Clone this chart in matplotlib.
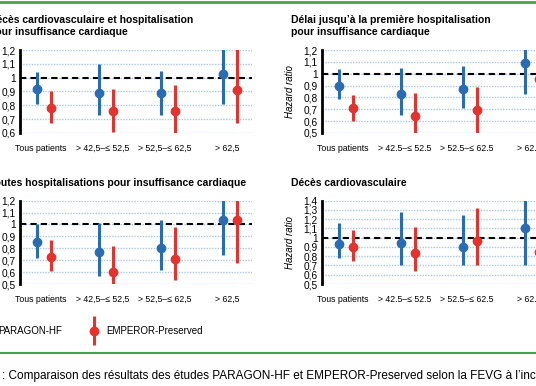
import numpy as np
import matplotlib
matplotlib.use("Agg")
import matplotlib.pyplot as plt
from matplotlib.lines import Line2D
from matplotlib.legend_handler import HandlerErrorbar

plt.rcParams['font.family'] = ['Liberation Sans Narrow', 'Liberation Sans', 'DejaVu Sans']

# --- data (hazard ratio, lower CI, upper CI) ---
groups_comma = ["Tous patients", "> 42,5\u2013\u2264 52,5", "> 52,5\u2013\u2264 62,5", "> 62,5"]
groups_dot = ["Tous patients", "> 42.5\u2013\u2264 52.5", "> 52.5\u2013\u2264 62.5", "> 62.5"]

# Décès CV et hospitalisation pour IC
p1_paragon_hr = [0.92, 0.89, 0.89, 1.03]
p1_paragon_lo = [0.81, 0.73, 0.73, 0.81]
p1_paragon_hi = [1.04, 1.10, 1.05, 1.31]
p1_emperor_hr = [0.78, 0.76, 0.76, 0.91]
p1_emperor_lo = [0.67, 0.61, 0.58, 0.67]
p1_emperor_hi = [0.90, 0.92, 0.95, 1.23]

# Délai jusqu'à la première hospitalisation pour IC
p2_paragon_hr = [0.90, 0.83, 0.87, 1.09]
p2_paragon_lo = [0.785, 0.655, 0.715, 0.83]
p2_paragon_hi = [1.04, 1.05, 1.065, 1.42]
p2_emperor_hr = [0.715, 0.64, 0.69, 0.955]
p2_emperor_lo = [0.60, 0.49, 0.49, 0.70]
p2_emperor_hi = [0.82, 0.84, 0.885, 1.28]

# Toutes hospitalisations pour IC
p3_paragon_hr = [0.85, 0.77, 0.80, 1.04]
p3_paragon_lo = [0.72, 0.57, 0.62, 0.745]
p3_paragon_hi = [1.00, 1.01, 1.04, 1.45]
p3_emperor_hr = [0.725, 0.60, 0.71, 1.04]
p3_emperor_lo = [0.61, 0.49, 0.53, 0.68]
p3_emperor_hi = [0.87, 0.82, 0.98, 1.55]

# Décès cardiovasculaire
p4_paragon_hr = [0.93, 0.94, 0.90, 1.10]
p4_paragon_lo = [0.785, 0.70, 0.70, 0.70]
p4_paragon_hi = [1.155, 1.275, 1.245, 1.72]
p4_emperor_hr = [0.90, 0.84, 0.965, 0.846]
p4_emperor_lo = [0.75, 0.64, 0.70, 0.55]
p4_emperor_hi = [1.08, 1.12, 1.32, 1.30]

ticks_a = [0.6, 0.7, 0.8, 0.9, 1.0, 1.1, 1.2]
ticks_b = [0.5, 0.6, 0.7, 0.8, 0.9, 1.0, 1.1, 1.2]
ticks_c = [0.5, 0.6, 0.7, 0.8, 0.9, 1.0, 1.1, 1.2, 1.3, 1.4]

BLUE = '#2a6cb3'
RED = '#e5322d'
GRID = '#a9c9ea'
GREEN = '#3fa84a'

W, H = 536, 386
fig = plt.figure(figsize=(W / 100, H / 100), dpi=100)


def px_axes(left, top, right, bottom):
    return fig.add_axes([left / W, 1 - bottom / H, (right - left) / W, (bottom - top) / H])


def tick_label(v):
    return ('%g' % v).replace('.', ',')


def panel(left, top, right, bottom, ticks, groups, title, title_y, par, emp, ylabel):
    ax = px_axes(left, top, right, bottom)
    x = np.arange(len(groups))
    spacing = 62.0
    ax.set_xlim(-(44 - 20) / spacing, -(44 - 20) / spacing + (right - left) / spacing)
    ax.set_ylim(ticks[0], ticks[-1])
    ax.set_yticks(ticks, [tick_label(t) for t in ticks])
    ax.set_xticks(x - 0.05, groups)
    ax.yaxis.grid(True, color=GRID, linestyle=(0, (1, 1)), lw=1)
    ax.set_axisbelow(True)
    ax.axhline(1, color='black', ls=(0, (3, 2)), lw=1.5, zorder=1.8)
    for off, (hr, lo, hi), col in [(-0.12, par, BLUE), (0.12, emp, RED)]:
        hr = np.array(hr)
        yerr = [hr - np.array(lo), np.array(hi) - hr]
        ax.errorbar(x + off, hr, yerr=yerr, fmt='o', color=col, ms=6,
                    elinewidth=2.2, capsize=0, zorder=3)
    for s in ['top', 'right', 'bottom']:
        ax.spines[s].set_visible(False)
    ax.spines['left'].set_linewidth(2)
    ax.tick_params(length=0)
    ax.tick_params(axis='y', labelsize=7.3, pad=3)
    ax.tick_params(axis='x', labelsize=6.3, pad=8)
    fig.text((left - 31) / W, 1 - title_y / H, title, fontsize=7.5,
             fontweight='bold', ha='left', va='center', linespacing=1.35)
    if ylabel:
        ax.set_ylabel('Hazard ratio', fontsize=7, style='italic')
        ax.yaxis.set_label_coords(-27 / (right - left), 0.5)
    return ax


panel(20, 50, 252, 133, ticks_a, groups_comma,
      "D\u00e9c\u00e8s cardiovasculaire et hospitalisation\npour insuffisance cardiaque", 26,
      (p1_paragon_hr, p1_paragon_lo, p1_paragon_hi),
      (p1_emperor_hr, p1_emperor_lo, p1_emperor_hi), False)
panel(322, 50, 600, 133, ticks_b, groups_dot,
      "D\u00e9lai jusqu\u2019\u00e0 la premi\u00e8re hospitalisation\npour insuffisance cardiaque", 26,
      (p2_paragon_hr, p2_paragon_lo, p2_paragon_hi),
      (p2_emperor_hr, p2_emperor_lo, p2_emperor_hi), True)
panel(20, 200.7, 252, 284, ticks_b, groups_comma,
      "Toutes hospitalisations pour insuffisance cardiaque", 183,
      (p3_paragon_hr, p3_paragon_lo, p3_paragon_hi),
      (p3_emperor_hr, p3_emperor_lo, p3_emperor_hi), False)
ax4 = panel(322, 200.7, 600, 284, ticks_c, groups_dot,
            "D\u00e9c\u00e8s cardiovasculaire", 183,
            (p4_paragon_hr, p4_paragon_lo, p4_paragon_hi),
            (p4_emperor_hr, p4_emperor_lo, p4_emperor_hi), True)

# legend built from errorbar handles
leg_handles = []
for col in [BLUE, RED]:
    eb = ax4.errorbar([], [], yerr=[], fmt='o', color=col, ms=6, elinewidth=2.2)
    leg_handles.append(eb)
fig.legend(leg_handles, ['PARAGON-HF', 'EMPEROR-Preserved'], ncol=2, frameon=False,
           loc='center left', bbox_to_anchor=(-25 / W, 1 - 331 / H), fontsize=7.0,
           handlelength=0.6, handletextpad=0.9, columnspacing=3.0,
           handler_map={type(leg_handles[0]): HandlerErrorbar(yerr_size=1.5)})

# green rules and caption
fig.add_artist(Line2D([0, 1], [1 - 2 / H, 1 - 2 / H], color=GREEN, lw=2, transform=fig.transFigure))
fig.add_artist(Line2D([0, 1], [1 - 353 / H, 1 - 353 / H], color=GREEN, lw=1.5, transform=fig.transFigure))
fig.text(2 / W, 1 - 376 / H,
         ": Comparaison des r\u00e9sultats des \u00e9tudes PARAGON-HF et EMPEROR-Preserved selon la FEVG \u00e0 l\u2019inclusion",
         fontsize=8.5, ha='left', va='center')

fig.savefig('out.png', dpi=100)
